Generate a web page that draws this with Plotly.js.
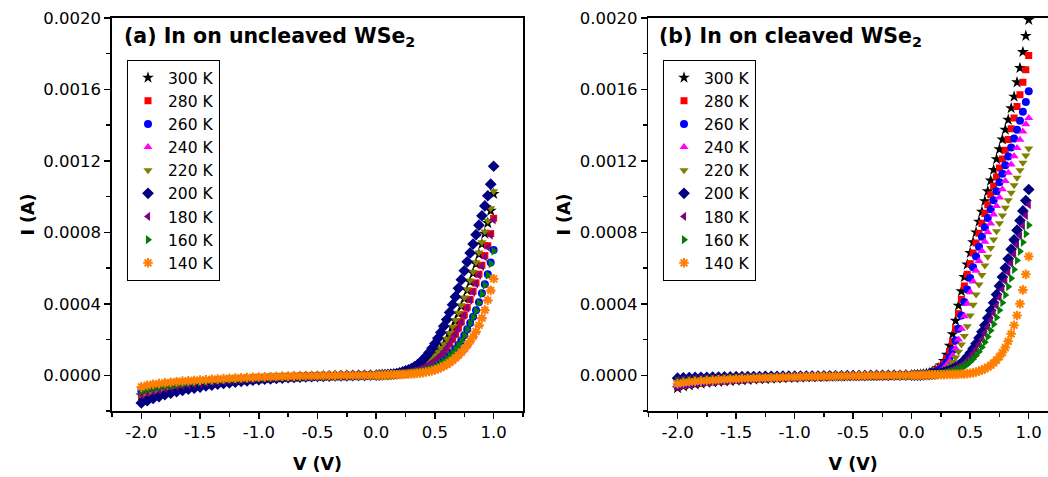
<!DOCTYPE html>
<html><head><meta charset="utf-8">
<script src="https://cdn.plot.ly/plotly-3.0.1.min.js"></script>
<style>html,body{margin:0;padding:0;overflow:hidden;background:#fff;width:1048px;height:477px}#chart{width:1070px;height:477px}</style>
</head><body><div id="chart"></div>
<script>
// Bias voltage (V)
const V_volts = [-2.00,-1.95,-1.90,-1.85,-1.80,-1.75,-1.70,-1.65,-1.60,-1.55,-1.50,-1.45,-1.40,-1.35,-1.30,-1.25,-1.20,-1.15,-1.10,-1.05,-1.00,-0.95,-0.90,-0.85,-0.80,-0.75,-0.70,-0.65,-0.60,-0.55,-0.50,-0.45,-0.40,-0.35,-0.30,-0.25,-0.20,-0.15,-0.10,-0.05,0.00,
0.025,0.05,0.075,0.10,0.125,0.15,0.175,0.20,0.225,0.25,0.275,0.30,0.325,0.35,0.375,0.40,0.425,0.45,0.475,0.50,0.525,0.55,0.575,0.60,0.625,0.65,0.675,0.70,0.725,0.75,0.775,0.80,0.825,0.85,0.875,0.90,0.925,0.95,0.975,1.00];

const temps = ['300 K','280 K','260 K','240 K','220 K','200 K','180 K','160 K','140 K'];

// (a) In on uncleaved WSe2 — current in microamps
const uncleaved_300K_uA = [-113,-103,-94,-86,-79,-73,-67,-62,-57,-52,-48,-44,-40,-37,-34,-31,-28,-26,-24,-22,-20,-18,-16,-14,-12,-11,-10,-9,-8,-7,-6,-5,-4,-3,-3,-2,-2,-1,-1,0,0,
1,2,2,3,4,5,7,10,13,17,21,26,32,39,48,59,71,84,98,113,131,151,174,202,233,268,305,345,386,429,475,522,571,623,677,734,793,852,921,1015];
const uncleaved_280K_uA = [-106,-96,-87,-80,-73,-67,-62,-57,-52,-48,-44,-41,-38,-35,-32,-29,-27,-24,-22,-20,-18,-16,-14,-13,-11,-10,-9,-8,-7,-6,-5,-4,-4,-3,-2,-2,-1,-1,0,0,0,
1,1,2,3,4,5,6,8,10,13,16,20,24,29,35,42,51,61,72,84,98,114,132,154,178,204,232,265,300,338,380,424,470,517,566,616,670,725,793,879];
const uncleaved_260K_uA = [-86,-78,-71,-65,-60,-55,-51,-47,-43,-40,-37,-34,-31,-29,-27,-25,-23,-21,-19,-17,-15,-14,-12,-11,-10,-9,-8,-7,-6,-5,-4,-4,-3,-2,-2,-1,-1,-1,0,0,0,
1,1,2,2,3,4,5,6,7,9,11,13,15,18,21,24,28,33,39,47,56,67,79,93,109,127,147,170,194,224,257,293,328,364,409,459,510,565,631,701];
const uncleaved_240K_uA = [-63,-55,-49,-45,-41,-38,-35,-33,-31,-29,-27,-25,-23,-21,-19,-17,-16,-14,-13,-12,-10,-9,-8,-7,-6,-6,-5,-4,-4,-3,-3,-2,-2,-2,-1,-1,-1,0,0,0,0,
0,1,1,2,2,3,3,4,5,6,7,8,9,11,13,15,18,21,25,30,36,43,52,61,72,84,98,113,130,150,171,194,219,247,283,323,369,424,480,545];
const uncleaved_220K_uA = [-115,-104,-95,-87,-80,-74,-68,-63,-58,-53,-49,-45,-41,-38,-35,-32,-29,-26,-24,-22,-20,-18,-16,-14,-12,-11,-10,-9,-8,-7,-6,-5,-4,-3,-3,-2,-2,-1,-1,0,0,
1,2,2,3,4,5,7,10,13,17,21,26,32,40,49,60,72,85,99,115,133,153,177,205,237,272,310,350,392,436,482,530,580,632,687,745,805,865,935,1030];
const uncleaved_200K_uA = [-155,-142,-130,-119,-109,-100,-92,-85,-78,-72,-66,-60,-55,-50,-46,-42,-38,-34,-31,-28,-25,-22,-20,-18,-16,-14,-12,-11,-9,-8,-7,-6,-5,-4,-3,-3,-2,-1,-1,0,0,
1,2,3,4,5,7,10,14,19,25,31,38,47,58,72,88,106,127,151,178,207,240,275,312,352,395,440,487,535,585,635,685,735,787,840,893,948,1005,1070,1170];
const uncleaved_180K_uA = [-108,-97,-88,-81,-74,-68,-63,-58,-53,-49,-45,-41,-38,-35,-32,-29,-27,-24,-22,-20,-18,-16,-14,-13,-11,-10,-9,-8,-7,-6,-5,-4,-4,-3,-2,-2,-1,-1,0,0,0,
1,1,2,3,4,5,6,8,10,13,16,20,24,29,35,42,50,60,71,83,97,113,131,152,176,202,230,262,297,335,376,420,465,512,560,610,663,718,785,870];
const uncleaved_160K_uA = [-88,-79,-72,-66,-61,-56,-52,-48,-44,-41,-38,-35,-32,-29,-27,-25,-23,-21,-19,-17,-15,-14,-12,-11,-10,-9,-8,-7,-6,-5,-4,-4,-3,-2,-2,-1,-1,-1,0,0,0,
1,1,2,2,3,4,5,6,7,9,11,13,15,18,21,24,28,33,39,46,55,66,78,92,108,126,146,168,192,222,255,290,325,360,405,455,505,560,625,695];
const uncleaved_140K_uA = [-65,-56,-50,-46,-42,-39,-36,-33,-31,-29,-27,-25,-23,-21,-19,-17,-16,-14,-13,-12,-10,-9,-8,-7,-6,-6,-5,-4,-4,-3,-3,-2,-2,-2,-1,-1,-1,0,0,0,0,
0,1,1,2,2,3,3,4,5,6,7,8,9,11,13,15,18,21,25,30,36,43,51,60,71,83,97,112,129,148,169,192,217,245,280,320,365,420,475,540];

// (b) In on cleaved WSe2 — current in microamps
const cleaved_300K_uA = [-72,-62,-56,-51,-47,-43,-40,-37,-34,-32,-30,-28,-26,-24,-22,-21,-19,-18,-16,-15,-14,-13,-12,-11,-10,-9,-8,-7,-7,-6,-5,-5,-4,-3,-3,-2,-2,-1,-1,0,0,
1,2,4,6,9,13,20,30,40,55,80,115,165,230,305,390,470,550,620,685,745,800,860,915,975,1030,1090,1150,1210,1265,1320,1375,1430,1495,1560,1640,1720,1810,1900,1990];
const cleaved_280K_uA = [-66,-57,-52,-47,-43,-40,-37,-34,-32,-30,-28,-26,-24,-22,-21,-19,-18,-16,-15,-14,-13,-12,-11,-10,-9,-8,-7,-7,-6,-5,-5,-4,-4,-3,-2,-2,-1,-1,0,0,0,
1,2,3,5,8,11,16,23,32,45,65,95,135,190,260,345,425,500,565,625,685,740,795,850,905,955,1010,1060,1110,1160,1210,1260,1320,1380,1440,1505,1570,1640,1710,1790];
const cleaved_260K_uA = [-60,-52,-47,-43,-39,-36,-34,-31,-29,-27,-25,-24,-22,-20,-19,-18,-16,-15,-14,-13,-12,-11,-10,-9,-8,-7,-7,-6,-5,-5,-4,-4,-3,-3,-2,-2,-1,-1,0,0,0,
1,2,3,4,6,9,13,18,25,35,50,72,102,142,195,260,335,410,480,545,605,665,720,775,828,880,930,980,1030,1080,1128,1176,1225,1275,1325,1375,1425,1475,1530,1590];
const cleaved_240K_uA = [-55,-48,-43,-40,-36,-34,-31,-29,-27,-25,-23,-22,-20,-19,-18,-16,-15,-14,-13,-12,-11,-10,-9,-8,-7,-7,-6,-5,-5,-4,-4,-3,-3,-2,-2,-1,-1,-1,0,0,0,
1,1,2,3,5,7,10,14,20,28,40,57,80,110,150,200,260,330,400,465,525,585,640,695,748,800,850,900,948,995,1042,1088,1134,1180,1226,1272,1318,1364,1405,1440];
const cleaved_220K_uA = [-40,-35,-32,-29,-27,-25,-23,-22,-20,-19,-18,-16,-15,-14,-13,-12,-12,-11,-10,-9,-9,-8,-7,-7,-6,-6,-5,-5,-4,-4,-3,-3,-2,-2,-2,-1,-1,-1,0,0,0,
1,1,2,3,4,6,8,11,15,21,29,40,55,75,100,132,172,220,275,335,395,452,508,562,614,664,712,760,806,851,895,938,980,1022,1064,1106,1148,1190,1230,1270];
const cleaved_200K_uA = [-16,-14,-13,-12,-11,-11,-10,-10,-9,-9,-8,-8,-7,-7,-7,-6,-6,-6,-5,-5,-5,-4,-4,-4,-4,-3,-3,-3,-3,-2,-2,-2,-2,-1,-1,-1,-1,0,0,0,0,
0,1,1,2,3,4,6,8,10,13,17,22,28,35,44,55,68,84,103,125,150,178,209,243,280,320,362,406,452,500,550,600,652,705,758,812,866,920,978,1040];
const cleaved_180K_uA = [-26,-23,-21,-19,-18,-17,-16,-15,-14,-13,-12,-11,-10,-10,-9,-9,-8,-8,-7,-7,-6,-6,-5,-5,-5,-4,-4,-4,-3,-3,-3,-2,-2,-2,-1,-1,-1,-1,0,0,0,
0,1,1,2,3,4,5,7,9,11,14,18,23,29,36,45,55,67,82,100,121,145,172,202,235,270,308,348,390,434,480,527,575,625,676,728,781,836,894,955];
const cleaved_160K_uA = [-32,-28,-26,-24,-22,-20,-19,-18,-16,-15,-14,-13,-12,-12,-11,-10,-10,-9,-8,-8,-7,-7,-6,-6,-5,-5,-4,-4,-4,-3,-3,-3,-2,-2,-2,-1,-1,-1,0,0,0,
0,1,1,2,2,3,4,6,7,9,11,14,18,22,27,33,41,50,61,75,91,110,132,157,185,216,250,286,324,364,406,450,496,543,592,643,694,744,792,840];
const cleaved_140K_uA = [-48,-42,-38,-35,-32,-30,-28,-26,-24,-22,-21,-19,-18,-17,-16,-15,-14,-13,-12,-11,-10,-9,-8,-8,-7,-6,-6,-5,-5,-4,-4,-3,-3,-2,-2,-2,-1,-1,0,0,0,
0,0,1,1,1,2,2,2,3,3,3,4,4,5,5,6,7,8,9,11,14,18,23,29,36,45,56,69,85,104,127,155,190,232,280,335,400,478,565,665];

const yTickVals = [0, 0.0004, 0.0008, 0.0012, 0.0016, 0.0020];
const yTickText = ['0.0000','0.0004','0.0008','0.0012','0.0016','0.0020'];
const xTickVals = [-2, -1.5, -1, -0.5, 0, 0.5, 1];
const xTickText = ['-2.0','-1.5','-1.0','-0.5','0.0','0.5','1.0'];

const uncleaved = [uncleaved_300K_uA, uncleaved_280K_uA, uncleaved_260K_uA, uncleaved_240K_uA, uncleaved_220K_uA, uncleaved_200K_uA, uncleaved_180K_uA, uncleaved_160K_uA, uncleaved_140K_uA];
const cleaved = [cleaved_300K_uA, cleaved_280K_uA, cleaved_260K_uA, cleaved_240K_uA, cleaved_220K_uA, cleaved_200K_uA, cleaved_180K_uA, cleaved_160K_uA, cleaved_140K_uA];

const markerStyles = [
  {symbol:'star', color:'#000000', size:9},
  {symbol:'square', color:'#ff0000', size:7},
  {symbol:'circle', color:'#0000ff', size:8},
  {symbol:'triangle-up', color:'#ff00ff', size:8},
  {symbol:'triangle-down', color:'#808000', size:8},
  {symbol:'diamond', color:'#000080', size:9},
  {symbol:'triangle-left', color:'#800080', size:8},
  {symbol:'triangle-right', color:'#008000', size:8},
  {symbol:'asterisk-open', color:'#ff8000', size:8}
];

function mk(st) {
  if (st.symbol === 'asterisk-open') {
    return {symbol: st.symbol, size: st.size, color: st.color, line: {color: st.color, width: 2}};
  }
  return {symbol: st.symbol, size: st.size, color: st.color, line: {width: 0}};
}

const FONT = 'DejaVu Sans, Verdana, sans-serif';
const traces = [];
uncleaved.forEach((arr, i) => {
  traces.push({x: V_volts, y: arr.map(v => v * 1e-6), type: 'scatter', mode: 'markers',
    name: temps[i], marker: mk(markerStyles[i]), xaxis: 'x', yaxis: 'y', legend: 'legend'});
});
cleaved.forEach((arr, i) => {
  traces.push({x: V_volts, y: arr.map(v => v * 1e-6), type: 'scatter', mode: 'markers',
    name: temps[i], marker: mk(markerStyles[i]), xaxis: 'x2', yaxis: 'y2', legend: 'legend2'});
});

const W = 1070, H = 477;
const mL = 112, mR = 12, mT = 18, mB = 66;
const plotW = W - mL - mR;
const plotH = H - mT - mB;

function xAxis(dom, anchor) {
  return {
    domain: dom, anchor: anchor, range: [-2.25, 1.25],
    showline: true, linecolor: '#000', linewidth: 1.6, mirror: true,
    showgrid: false, zeroline: false,
    ticks: 'outside', ticklen: 6, tickwidth: 1.5, tickcolor: '#000',
    tickmode: 'array', tickvals: xTickVals, ticktext: xTickText,
    minor: {tickmode: 'linear', tick0: 0, dtick: 0.25, ticks: 'outside', ticklen: 4, tickwidth: 1.5, tickcolor: '#000', showgrid: false},
    tickfont: {family: FONT, size: 16.5, color: '#000'},
    title: {text: '<b>V (V)</b>', font: {family: FONT, size: 17.5, color: '#000'}, standoff: 16},
    automargin: false
  };
}
function yAxis(anchor) {
  return {
    domain: [0, 1], anchor: anchor, range: [-0.0002, 0.0020],
    showline: true, linecolor: '#000', linewidth: 1.6, mirror: true,
    showgrid: false, zeroline: false,
    ticks: 'outside', ticklen: 6, tickwidth: 1.5, tickcolor: '#000',
    tickmode: 'array', tickvals: yTickVals, ticktext: yTickText,
    minor: {tickmode: 'linear', tick0: 0, dtick: 0.0002, ticks: 'outside', ticklen: 4, tickwidth: 1.5, tickcolor: '#000', showgrid: false},
    tickfont: {family: FONT, size: 16.5, color: '#000'},
    title: {text: '<b>I (A)</b>', font: {family: FONT, size: 17.5, color: '#000'}, standoff: 4},
    automargin: false
  };
}

const legendCommon = {
  xanchor: 'left', yanchor: 'top', bordercolor: '#000', borderwidth: 1, bgcolor: '#fff',
  font: {family: FONT, size: 15.5, color: '#000'}, tracegroupgap: 0, itemwidth: 30
};

const layout = {
  width: W, height: H,
  margin: {l: mL, r: mR, t: mT, b: mB, pad: 0},
  paper_bgcolor: '#fff', plot_bgcolor: '#fff',
  showlegend: true,
  xaxis: xAxis([0, (523 - mL) / plotW], 'y'),
  yaxis: yAxis('x'),
  xaxis2: xAxis([(648.3 - mL) / plotW, 1], 'y2'),
  yaxis2: yAxis('x2'),
  legend: Object.assign({x: (127 - mL) / plotW, y: (411 - 60) / plotH}, legendCommon),
  legend2: Object.assign({x: (663 - mL) / plotW, y: (411 - 60) / plotH}, legendCommon),
  annotations: [
    {xref: 'x domain', yref: 'y domain', x: 0.025, y: 0.952, xanchor: 'left', yanchor: 'middle', showarrow: false,
     text: '<b>(a) In on uncleaved WSe<sub>2</sub></b>', font: {family: FONT, size: 20.5, color: '#000'}},
    {xref: 'x2 domain', yref: 'y2 domain', x: 0.022, y: 0.952, xanchor: 'left', yanchor: 'middle', showarrow: false,
     text: '<b>(b) In on cleaved WSe<sub>2</sub></b>', font: {family: FONT, size: 20.5, color: '#000'}}
  ]
};

Plotly.newPlot('chart', traces, layout, {displayModeBar: false, staticPlot: true});
</script>
</body></html>
